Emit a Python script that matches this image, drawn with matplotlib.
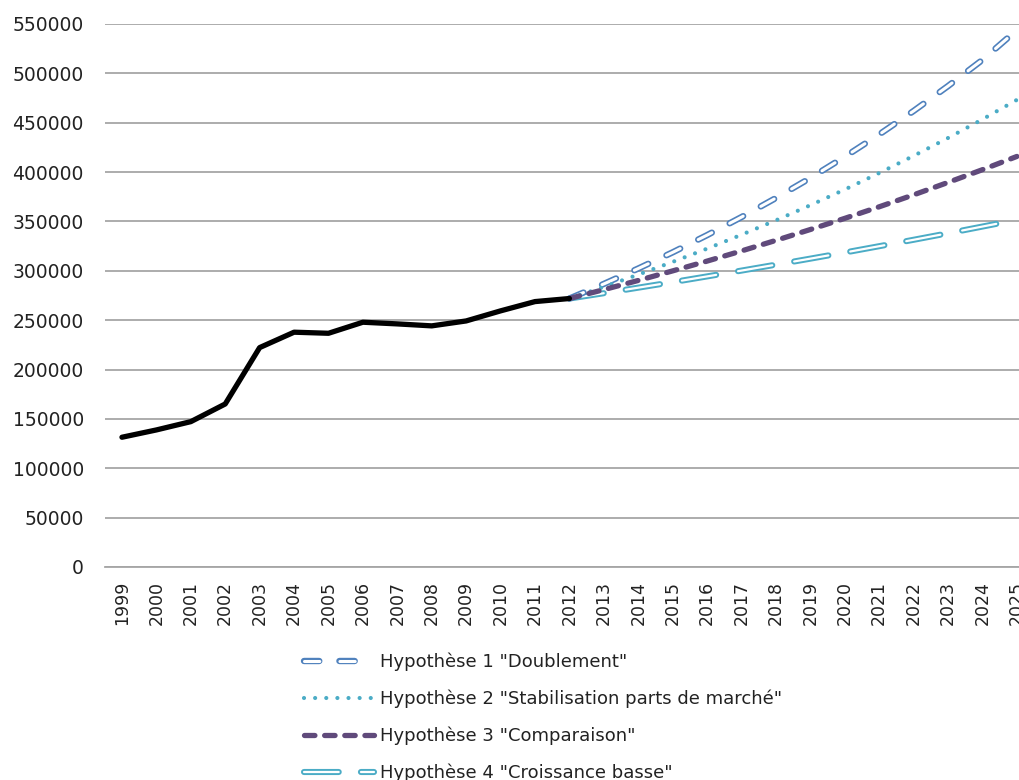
import matplotlib
matplotlib.use("Agg")
from matplotlib import pyplot as plt
import numpy as np

plt.rcParams['font.family'] = ['DejaVu Sans']
plt.rcParams['lines.scale_dashes'] = False

years = list(range(1999, 2026))
hist_years = list(range(1999, 2013))
proj_years = list(range(2012, 2026))

historique = [131400, 138800, 147200, 165100, 222200, 237800, 236700,
              247900, 246200, 244200, 249200, 259400, 268800, 271900]

# projections 2012-2025
h1_doublement = [271900, 286700, 302300, 318700, 336100, 354400, 373700,
                 394000, 415500, 438100, 461900, 487100, 513600, 543800]
h2_stabilisation = [271900, 283700, 296100, 309000, 322400, 336500, 351100,
                    366400, 382300, 399000, 416400, 434500, 453400, 473100]
h3_comparaison = [271900, 280900, 290200, 299900, 309800, 320100, 330800,
                  341800, 353100, 364800, 376900, 389500, 402400, 415800]
h4_basse = [271900, 277300, 282900, 288500, 294300, 300200, 306200,
            312300, 318500, 324900, 331400, 338000, 344800, 351600]

labels = ['Hypothèse 1 "Doublement"',
          'Hypothèse 2 "Stabilisation parts de marché"',
          'Hypothèse 3 "Comparaison"',
          'Hypothèse 4 "Croissance basse"']

fig = plt.figure(figsize=(10.19, 7.8), dpi=100)
ax = fig.add_axes([0.1028, 0.2731, 0.912, 0.6962])

ax.plot(hist_years, historique, color='black', lw=3.8, solid_joinstyle='round',
        solid_capstyle='round', zorder=5)

# double (hollow) line = thick colour + thin white on top
a1 = ax.plot(proj_years, h1_doublement, color='#4F81BD', lw=4.6,
             dashes=(11, 14.5), dash_capstyle='round', zorder=4)[0]
b1 = ax.plot(proj_years, h1_doublement, color='white', lw=2.2,
             dashes=(11, 14.5), dash_capstyle='round', zorder=4)[0]

l2 = ax.plot(proj_years, h2_stabilisation, color='#4BACC6', lw=3.0,
             dashes=(0.01, 8.0), dash_capstyle='round', zorder=4)[0]

l3 = ax.plot(proj_years, h3_comparaison, color='#604A7B', lw=3.8,
             dashes=(7.5, 7.0), dash_capstyle='round', zorder=4)[0]

a4 = ax.plot(proj_years, h4_basse, color='#4BACC6', lw=4.4,
             dashes=(25, 16), dash_capstyle='round', zorder=3)[0]
b4 = ax.plot(proj_years, h4_basse, color='white', lw=1.6,
             dashes=(25, 16), dash_capstyle='round', zorder=3)[0]

ax.set_xlim(1998.5, 2025.5)
ax.set_ylim(0, 550000)
ax.set_yticks(np.arange(0, 550001, 50000))
ax.set_yticklabels([str(v) for v in range(0, 550001, 50000)])
ax.set_xticks(years)
ax.set_xticklabels([str(y) for y in years], rotation=90)
ax.tick_params(axis='both', length=0, colors='#222222')
ax.tick_params(axis='y', pad=15, labelsize=13.5)
ax.tick_params(axis='x', pad=10, labelsize=12.5)
ax.grid(axis='y', color='#A6A6A6', lw=1.3)
ax.set_axisbelow(True)
for s in ['top', 'right', 'left']:
    ax.spines[s].set_visible(False)
ax.spines['bottom'].set_color('#A6A6A6')
ax.spines['bottom'].set_linewidth(1.3)

fig.legend([(a1, b1), l2, l3, (a4, b4)], labels,
           loc='upper left', bbox_to_anchor=(0.298, 0.163),
           frameon=False, fontsize=13, handlelength=3.9, handletextpad=0.35,
           labelspacing=1.02, borderpad=0, borderaxespad=0,
           labelcolor='#222222')

fig.savefig('out.png', dpi=100)
